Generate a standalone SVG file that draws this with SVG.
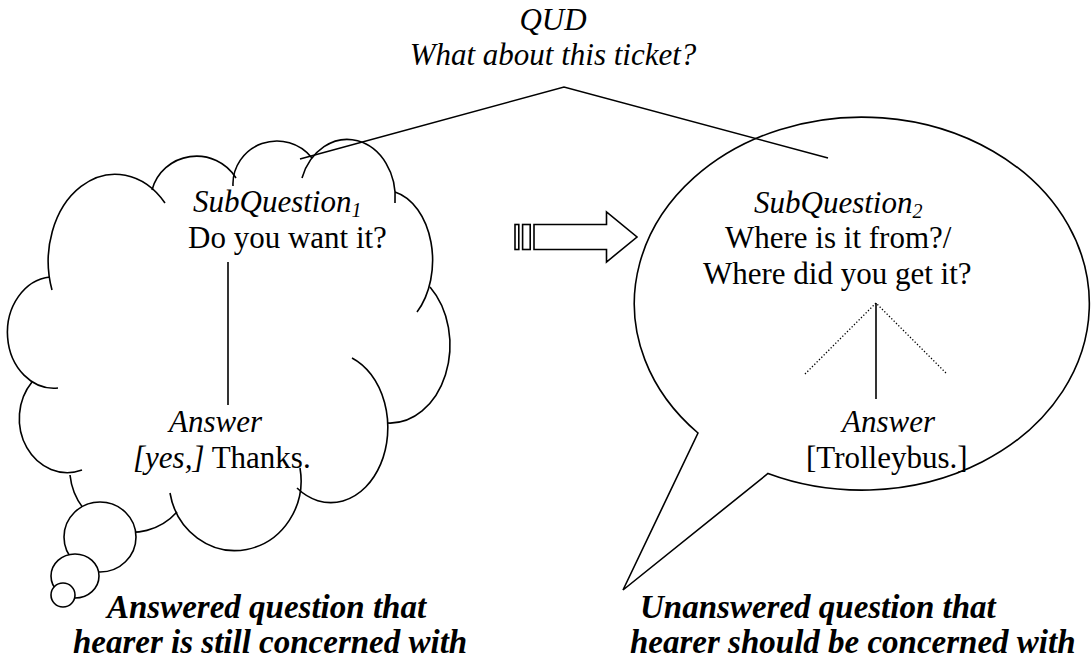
<svg xmlns="http://www.w3.org/2000/svg" width="1091" height="659" viewBox="0 0 1091 659">
<style>
  .t{font-family:"Liberation Serif","Times New Roman",serif;font-size:31px;fill:#000}
  .i{font-style:italic}
  .cap{font-family:"Liberation Serif","Times New Roman",serif;font-size:33px;font-style:italic;font-weight:bold;fill:#000}
  .sub{font-size:20px}
  .ln{fill:none;stroke:#000;stroke-width:1.6}
  .shape{fill:#fff;stroke:#000;stroke-width:1.6}
  .dot{fill:none;stroke:#000;stroke-width:1.3;stroke-dasharray:1.3 2}
</style>
<rect width="1091" height="659" fill="#fff"/>

<g id="cloud">
  <path class="ln" d="M52,290 A67,87 0 0 1 165,203"/>
  <path class="ln" d="M152,190 A46,45 0 0 1 236,178"/>
  <path class="ln" d="M233,186 A44,43 0 0 1 312,158"/>
  <path class="ln" d="M302,178 A48,58 0 0 1 395,203"/>
  <path class="ln" d="M395,192 A48,70 0 0 1 417,312"/>
  <path class="ln" d="M430,287 A60,78 0 0 1 387,423"/>
  <path class="ln" d="M352,358 A57,75 0 1 1 297,488"/>
  <path class="ln" d="M300,468 A66,70 0 0 1 170,493"/>
  <path class="ln" d="M177,512 A62,64 0 0 1 70,475"/>
  <path class="ln" d="M82,470 A48,54 0 0 1 32,382"/>
  <path class="ln" d="M58,388 A46,55 0 0 1 50,277"/>
  <ellipse class="shape" cx="100" cy="537" rx="36" ry="35"/>
  <ellipse class="shape" cx="75" cy="576" rx="24" ry="22"/>
  <ellipse class="shape" cx="63" cy="595" rx="12" ry="12"/>
</g>

<g id="bubble">
  <path class="shape" d="M698,433 A227.5,186.5 0 1 1 768,473.5 L623,590 Z"/>
</g>

<g id="arrow">
  <rect class="shape" x="515" y="224.5" width="3.8" height="25"/>
  <rect class="shape" x="522.6" y="224.5" width="7.6" height="25"/>
  <path class="shape" d="M534,224.5 L606.5,224.5 L606.5,212 L637,237 L606.5,262 L606.5,249.5 L534,249.5 Z"/>
</g>

<g id="connectors">
  <polyline class="ln" points="300,159 564,87 828,158"/>
  <line class="ln" x1="228" y1="262" x2="228" y2="405"/>
  <line class="ln" x1="876" y1="303" x2="876" y2="399"/>
  <polyline class="dot" points="805,374 876,303 947,374"/>
</g>

<g id="qud">
  <text class="t i" x="553" y="30" text-anchor="middle">QUD</text>
  <text class="t i" x="553" y="65" text-anchor="middle">What about this ticket?</text>
</g>

<g id="subq1">
  <text class="t i" x="193" y="212">SubQuestion<tspan class="sub" dy="5">1</tspan></text>
  <text class="t" x="188" y="248">Do you want it?</text>
</g>

<g id="answer1">
  <text class="t i" x="169" y="432">Answer</text>
  <text class="t" x="133" y="468"><tspan class="i">[yes,]</tspan> Thanks.</text>
</g>

<g id="subq2">
  <text class="t i" x="754" y="213">SubQuestion<tspan class="sub" dy="5">2</tspan></text>
  <text class="t" x="725" y="248">Where is it from?/</text>
  <text class="t" x="703" y="284">Where did you get it?</text>
</g>

<g id="answer2">
  <text class="t i" x="842" y="432">Answer</text>
  <text class="t" x="806" y="468">[Trolleybus.]</text>
</g>

<g id="caption-left">
  <text class="cap" x="107" y="618">Answered question that</text>
  <text class="cap" x="73" y="653">hearer is still concerned with</text>
</g>

<g id="caption-right">
  <text class="cap" x="640" y="618">Unanswered question that</text>
  <text class="cap" x="630" y="653">hearer should be concerned with</text>
</g>
</svg>
